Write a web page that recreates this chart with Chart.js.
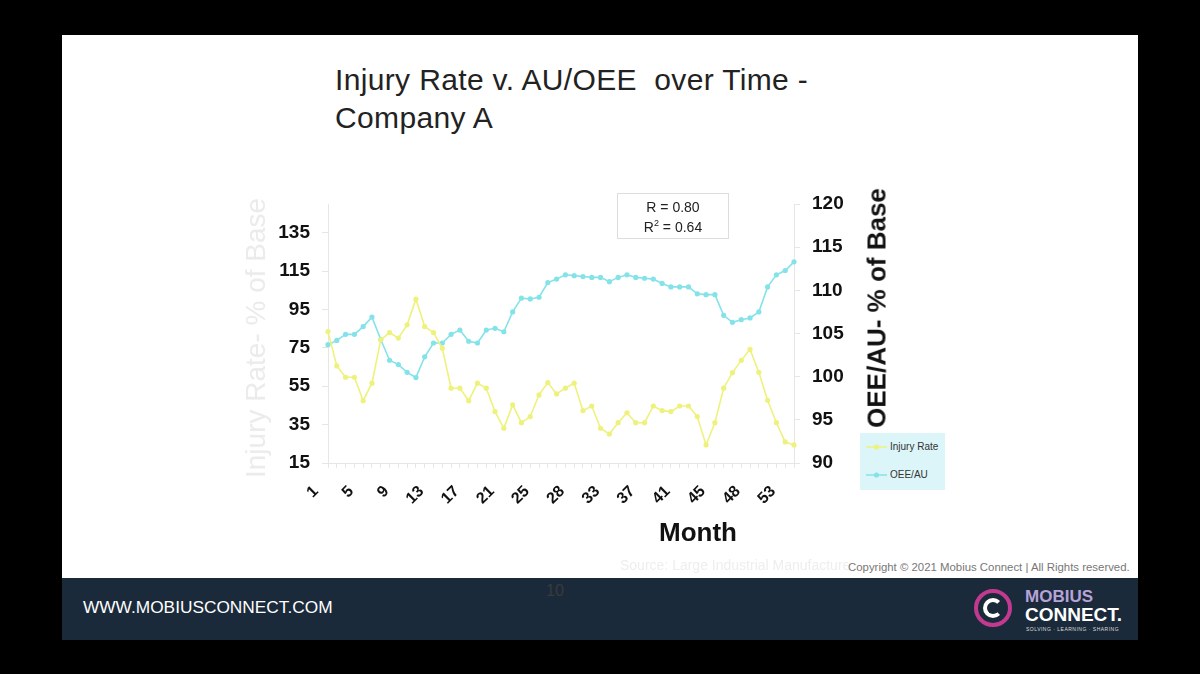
<!DOCTYPE html>
<html>
<head>
<meta charset="utf-8">
<script src="https://cdn.jsdelivr.net/npm/chart.js@4.4.0/dist/chart.umd.min.js"></script>
<style>
  body { margin: 0; width: 1200px; height: 674px; background: #000; overflow: hidden; font-family: "Liberation Sans", Arial, sans-serif; }
  #slide { position: absolute; left: 62px; top: 35px; width: 1076px; height: 543px; background: #fff; }
  #footer { position: absolute; left: 62px; top: 578px; width: 1076px; height: 62px; background: #1b2a3a; }
  .abs { position: absolute; white-space: nowrap; }
  #chartBox { position: absolute; left: 230px; top: 180px; width: 670px; height: 370px; }
</style>
</head>
<body>
<div id="slide"></div>
<div id="footer"></div>

<div class="abs" style="left:335px; top:61px; font-size:30px; letter-spacing:0.35px; line-height:38px; color:#222;">Injury Rate v. AU/OEE&nbsp; over Time -<br>Company A</div>

<div id="chartBox"><canvas id="chart"></canvas></div>

<!-- axis titles -->
<div class="abs" style="left:256px; top:338px; transform:translate(-50%,-50%) rotate(-90deg); font-size:28px; color:#ebebeb;">Injury Rate- % of Base</div>
<div class="abs" style="left:877px; top:308px; transform:translate(-50%,-50%) rotate(-90deg); font-size:26px; font-weight:bold; color:#111;">OEE/AU- % of Base</div>
<div class="abs" style="left:698px; top:532px; transform:translate(-50%,-50%); font-size:26px; font-weight:bold; color:#111;">Month</div>

<!-- correlation box -->
<div class="abs" style="left:617px; top:193px; width:112px; height:46px; border:1px solid #ddd; text-align:center; font-size:14px; line-height:20px; padding-top:3px; box-sizing:border-box; color:#222;">
  R = 0.80<br>R<sup style="font-size:9px; line-height:0;">2</sup> = 0.64
</div>

<!-- legend -->
<div class="abs" style="left:860px; top:433px; width:85px; height:57px; background:#dcf5f8;">
  <canvas id="legendMarks" width="30" height="57" style="position:absolute; left:0; top:0;"></canvas>
  <div class="abs" style="left:30px; top:8px; font-size:10px; color:#333;">Injury Rate</div>
  <div class="abs" style="left:30px; top:36px; font-size:10px; color:#333;">OEE/AU</div>
</div>

<div class="abs" style="left:620px; top:557px; font-size:14px; color:#eeeeee;">Source: Large Industrial Manufacturer</div>
<div class="abs" style="left:848px; top:561px; font-size:11.4px; color:#777; background:#fff; padding-right:4px;">Copyright © 2021 Mobius Connect | All Rights reserved.</div>

<div class="abs" style="left:546px; top:582px; font-size:16px; color:#3a3a3a;">10</div>
<div class="abs" style="left:83px; top:597px; font-size:17.3px; color:#fff;">WWW.MOBIUSCONNECT.COM</div>

<!-- logo -->
<div class="abs" style="left:974px; top:589px; width:30px; height:30px; border:4px solid #c23a8f; border-radius:50%;"></div>
<div class="abs" style="left:983px; top:598px; width:12px; height:12px; border:4px solid #fff; border-radius:50%; border-right-color:transparent;"></div>
<div class="abs" style="left:1025px; top:587px; font-size:17px; font-weight:bold; color:#b7a3d9;">MOBIUS</div>
<div class="abs" style="left:1025px; top:604px; font-size:19px; font-weight:bold; color:#fff;">CONNECT.</div>
<div class="abs" style="left:1026px; top:626px; font-size:5px; color:#ddd; letter-spacing:0.5px;">SOLVING · LEARNING · SHARING</div>

<script>
// month labels as they appear on the category axis
const months = [
  1, 2, 3, 4, 5, 6, 7, 8, 9, 10, 11, 12, 13, 14, 15, 16, 17, 18, 19, 20,
  21, 22, 23, 24, 25, 26, 27, 27, 28, 30, 31, 32, 33, 34, 35, 36, 37, 38, 39, 40,
  41, 42, 43, 44, 45, 46, 47, 47, 48, 50, 51, 52, 53, 54
];

// Injury Rate - % of base (left axis)
const injuryRate = [
  83.5, 65.6, 59.7, 59.7, 47.5, 56.6, 79.2, 83.0, 80.1, 87.0,
  100.4, 86.1, 83.0, 74.8, 54.0, 54.0, 47.5, 56.6, 54.0, 41.8,
  33.1, 45.3, 36.0, 39.2, 50.5, 56.9, 51.0, 54.0, 56.6, 42.3,
  44.7, 33.1, 30.1, 36.0, 41.2, 36.0, 36.0, 44.7, 42.3, 41.8,
  44.7, 44.7, 39.2, 24.4, 36.0, 54.0, 62.1, 68.5, 74.2, 62.3,
  47.7, 36.0, 26.0, 24.4
];

// OEE/AU - % of base (right axis)
const oeeAu = [
  103.7, 104.2, 104.9, 104.9, 105.8, 106.9, 104.3, 101.9, 101.4, 100.5,
  99.9, 102.3, 103.9, 103.9, 104.9, 105.4, 104.1, 103.9, 105.4, 105.6,
  105.2, 107.5, 109.1, 109.0, 109.2, 110.9, 111.3, 111.8, 111.7, 111.6,
  111.5, 111.5, 111.0, 111.5, 111.8, 111.5, 111.4, 111.3, 110.8, 110.4,
  110.4, 110.4, 109.6, 109.5, 109.5, 107.1, 106.3, 106.6, 106.8, 107.5,
  110.4, 111.8, 112.3, 113.3
];

const leftTicks = [15, 35, 55, 75, 95, 115, 135];
const rightTicks = [90, 95, 100, 105, 110, 115, 120];

const yellow = '#eef27c';
const cyan = '#84e3e9';
const axisGray = '#e6e6e6';
const tickFont = { family: 'Liberation Sans, Arial', size: 19, weight: 'bold' };

new Chart(document.getElementById('chart'), {
    type: 'line',
    data: {
        labels: months.map(String),
        datasets: [
            {
                label: 'Injury Rate',
                data: injuryRate,
                yAxisID: 'yL',
                borderColor: yellow,
                backgroundColor: yellow,
                borderWidth: 1.6,
                pointRadius: 2.6,
                pointBorderWidth: 0,
                tension: 0
            },
            {
                label: 'OEE/AU',
                data: oeeAu,
                yAxisID: 'yR',
                borderColor: cyan,
                backgroundColor: cyan,
                borderWidth: 1.6,
                pointRadius: 2.6,
                pointBorderWidth: 0,
                tension: 0
            }
        ]
    },
    options: {
        responsive: true,
        maintainAspectRatio: false,
        animation: false,
        layout: { padding: { top: 24, right: 0, left: 0, bottom: 0 } },
        plugins: {
            legend: { display: false },
            tooltip: { enabled: false }
        },
        scales: {
            x: {
                offset: false,
                grid: { display: true, drawOnChartArea: false, color: axisGray, tickLength: 5 },
                border: { color: axisGray },
                ticks: {
                    autoSkip: false,
                    minRotation: 45,
                    maxRotation: 45,
                    padding: 14,
                    labelOffset: -12,
                    color: '#111',
                    font: { family: 'Liberation Sans, Arial', size: 16, weight: 'bold' },
                    callback: (value, index) => index % 4 === 0 ? String(months[index]) : ''
                },
                afterFit: scale => { scale.height = 87; }
            },
            yL: {
                position: 'left',
                min: 15,
                max: 150,
                grid: { display: true, drawOnChartArea: false, color: axisGray, tickLength: 6 },
                border: { color: axisGray },
                afterBuildTicks: scale => { scale.ticks = leftTicks.map(v => ({ value: v })); },
                ticks: { padding: 12, color: '#111', font: tickFont },
                afterFit: scale => { scale.width = 98; }
            },
            yR: {
                position: 'right',
                min: 90,
                max: 120,
                grid: { display: true, drawOnChartArea: false, color: axisGray, tickLength: 6 },
                border: { color: axisGray },
                afterBuildTicks: scale => { scale.ticks = rightTicks.map(v => ({ value: v })); },
                ticks: { padding: 12, color: '#111', font: tickFont },
                afterFit: scale => { scale.width = 106; }
            }
        }
    }
});

// small line+marker samples for the legend box
const lg = document.getElementById('legendMarks').getContext('2d');
[[yellow, 14], [cyan, 42]].forEach(([color, y]) => {
    lg.strokeStyle = color;
    lg.fillStyle = color;
    lg.lineWidth = 1.5;
    lg.beginPath();
    lg.moveTo(6, y);
    lg.lineTo(27, y);
    lg.stroke();
    lg.beginPath();
    lg.arc(16.5, y, 2.6, 0, Math.PI * 2);
    lg.fill();
});
</script>
</body>
</html>
